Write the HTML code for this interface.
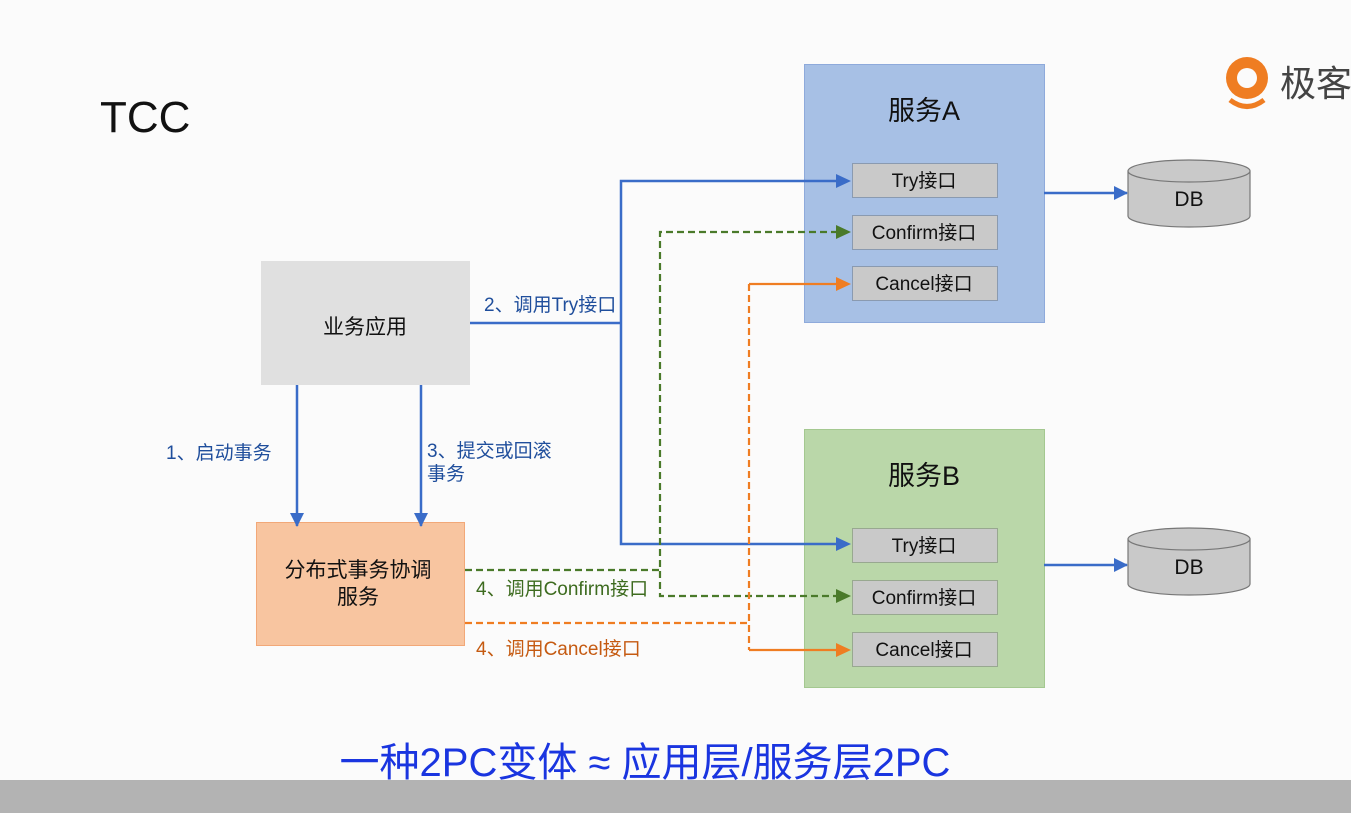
<!DOCTYPE html>
<html><head><meta charset="utf-8"><style>
html,body{margin:0;padding:0;background:#fbfbfb;}
svg{display:block}
text{font-family:"Liberation Sans","Noto Sans CJK SC",sans-serif;}
</style></head><body>
<svg width="1351" height="813" viewBox="0 0 1351 813" xmlns="http://www.w3.org/2000/svg">
<defs>
<marker id="ab2" markerWidth="14" markerHeight="14" refX="13" refY="7" orient="auto" markerUnits="userSpaceOnUse"><path d="M0,0 L14,7 L0,14 z" fill="#3a6cc8"/></marker>
</defs>
<rect x="0" y="0" width="1351" height="813" fill="#fbfbfb"/>
<rect x="0" y="780" width="1351" height="33" fill="#b3b3b3"/>
<text x="100" y="132" font-size="44" fill="#111">TCC</text>

<!-- logo -->
<circle cx="1247" cy="78" r="21" fill="#ef7d22"/>
<circle cx="1247" cy="78" r="10" fill="#fbfbfb"/>
<path d="M1230,100 Q1247,113 1264,100" stroke="#ef7d22" stroke-width="5" fill="none"/>
<text x="1280" y="96" font-size="36" fill="#444">极客</text>

<!-- boxes -->
<rect x="261" y="261" width="209" height="124" fill="#e0e0e0"/>
<text x="365" y="334" font-size="21" text-anchor="middle" fill="#111">业务应用</text>
<rect x="256.5" y="522.5" width="208" height="123" fill="#f8c5a0" stroke="#f2a878"/>
<text x="358" y="577" font-size="21" text-anchor="middle" fill="#111">分布式事务协调</text>
<text x="358" y="604" font-size="21" text-anchor="middle" fill="#111">服务</text>

<rect x="804.5" y="64.5" width="240" height="258" fill="#a7c0e5" stroke="#8eaadb"/>
<text x="924" y="120" font-size="27" text-anchor="middle" fill="#111">服务A</text>
<rect x="804.5" y="429.5" width="240" height="258" fill="#bad7a9" stroke="#a4c890"/>
<text x="924" y="485" font-size="27" text-anchor="middle" fill="#111">服务B</text>

<g font-size="19" text-anchor="middle" fill="#111">
<rect x="852.5" y="163.5" width="145" height="34" fill="#c9c9c9" stroke="#8a9ab0"/><text x="924" y="187">Try接口</text>
<rect x="852.5" y="215.5" width="145" height="34" fill="#c9c9c9" stroke="#8a9ab0"/><text x="924" y="239">Confirm接口</text>
<rect x="852.5" y="266.5" width="145" height="34" fill="#c9c9c9" stroke="#8a9ab0"/><text x="924" y="290">Cancel接口</text>
<rect x="852.5" y="528.5" width="145" height="34" fill="#c9c9c9" stroke="#98a890"/><text x="924" y="552">Try接口</text>
<rect x="852.5" y="580.5" width="145" height="34" fill="#c9c9c9" stroke="#98a890"/><text x="924" y="604">Confirm接口</text>
<rect x="852.5" y="632.5" width="145" height="34" fill="#c9c9c9" stroke="#98a890"/><text x="924" y="656">Cancel接口</text>
</g>

<!-- DB -->
<g stroke="#777" stroke-width="1.2" fill="#c9c9c9">
<path d="M1128,171 L1128,216 A61,11 0 0 0 1250,216 L1250,171"/>
<ellipse cx="1189" cy="171" rx="61" ry="11"/>
<path d="M1128,539 L1128,584 A61,11 0 0 0 1250,584 L1250,539"/>
<ellipse cx="1189" cy="539" rx="61" ry="11"/>
</g>
<text x="1189" y="206" font-size="21" text-anchor="middle" fill="#111">DB</text>
<text x="1189" y="574" font-size="21" text-anchor="middle" fill="#111">DB</text>

<!-- connectors -->
<g stroke="#3a6cc8" stroke-width="2.5" fill="none">
<line x1="1044" y1="193" x2="1127" y2="193" marker-end="url(#ab2)"/>
<line x1="1044" y1="565" x2="1127" y2="565" marker-end="url(#ab2)"/>
<polyline points="470,323 621,323"/>
<polyline points="838,181 621,181 621,544 838,544"/>
<line x1="297" y1="385" x2="297" y2="526" marker-end="url(#ab2)"/>
<line x1="421" y1="385" x2="421" y2="526" marker-end="url(#ab2)"/>
</g>
<path d="M836,174 L851,181 L836,188z M836,537 L851,544 L836,551z" fill="#3a6cc8"/>
<g stroke="#4a7a2a" stroke-width="2.2" fill="none" stroke-dasharray="7,4">
<polyline points="465,570 660,570"/>
<polyline points="838,232 660,232 660,596 838,596"/>
</g>
<path d="M836,225 L851,232 L836,239z M836,589 L851,596 L836,603z" fill="#4a7a2a"/>
<g stroke="#ef7d22" stroke-width="2.2" fill="none">
<polyline points="465,623 749,623" stroke-dasharray="7,4"/>
<polyline points="749,284 749,650" stroke-dasharray="7,4"/>
<line x1="749" y1="284" x2="838" y2="284"/>
<line x1="749" y1="650" x2="838" y2="650"/>
</g>
<path d="M836,277 L851,284 L836,291z M836,643 L851,650 L836,657z" fill="#ef7d22"/>

<!-- labels -->
<g font-size="19">
<text x="484" y="311" fill="#1f4e9c">2、调用Try接口</text>
<text x="166" y="459" fill="#1f4e9c">1、启动事务</text>
<text x="427" y="457" fill="#1f4e9c">3、提交或回滚</text>
<text x="427" y="480" fill="#1f4e9c">事务</text>
<text x="476" y="595" fill="#3d6b1f">4、调用Confirm接口</text>
<text x="476" y="655" fill="#c55a11">4、调用Cancel接口</text>
</g>
<text x="645" y="776" font-size="40" text-anchor="middle" fill="#1a35e0">一种2PC变体 ≈ 应用层/服务层2PC</text>
</svg>
</body></html>
